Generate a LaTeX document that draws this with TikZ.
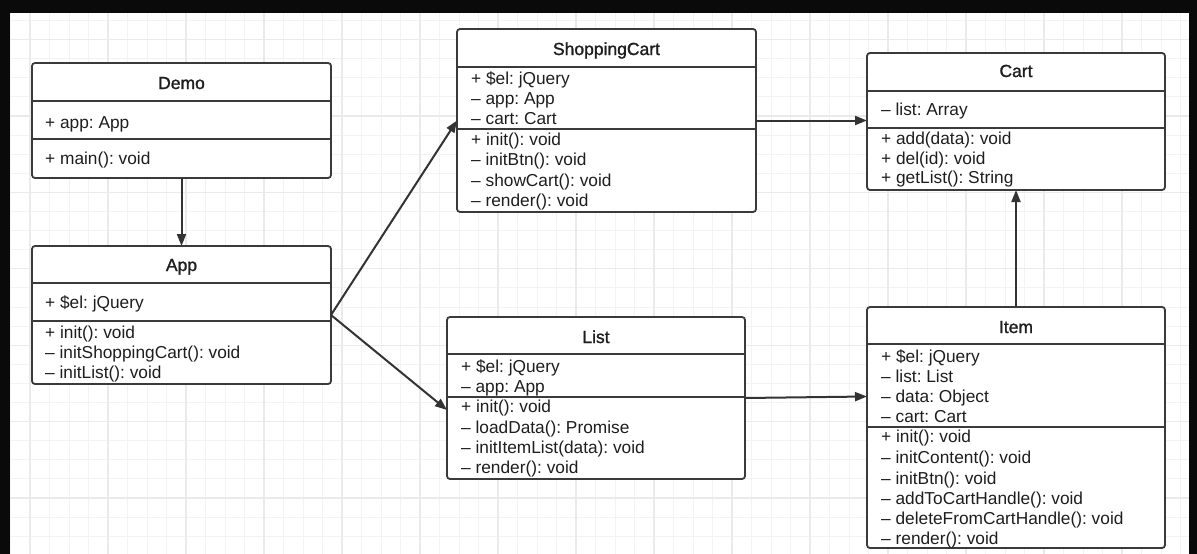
\documentclass[tikz,border=0pt]{standalone}
\usepackage{fontspec}
\setmainfont{Liberation Sans}
\newfontfamily\hdrfont{Liberation Sans}[BoldFont={Liberation Sans},BoldFeatures={FakeBold=1.3}]
\usetikzlibrary{arrows.meta,calc}
\definecolor{boxc}{HTML}{3A3A3A}
\definecolor{txtc}{HTML}{1E1E1E}
\definecolor{arrc}{HTML}{333333}
\definecolor{gridminor}{HTML}{F3F3F3}
\definecolor{gridmajor}{HTML}{EAEAEA}
\definecolor{framec}{HTML}{0A0A0A}
\frenchspacing
\begin{document}
\begin{tikzpicture}[x=1pt,y=-1pt,
  box/.style={draw=boxc, line width=1.8pt, rounded corners=3pt, fill=white, inner sep=0pt, outer sep=0pt, anchor=north west},
  sep/.style={draw=boxc, line width=1.6pt},
  txt/.style={anchor=base west, inner sep=0pt, font=\fontsize{17.3}{20}\selectfont, text=txtc},
  hdr/.style={anchor=base, inner sep=0pt, font=\fontsize{17.5}{20}\selectfont\hdrfont\bfseries, text=txtc},
  arr/.style={draw=arrc, line width=2pt, -{Triangle[length=12pt,width=9pt]}},
  gmin/.style={draw=gridminor, line width=1pt},
  gmaj/.style={draw=gridmajor, line width=1.2pt},
]
\useasboundingbox (0,0) rectangle (1197,554);
\clip (0,0) rectangle (1197,554);
\fill[white] (0,0) rectangle (1197,554);
% grid
\foreach \k in {0,...,60} \draw[gmin] ({10.5+19.5*\k},0) -- ({10.5+19.5*\k},554);
\foreach \k in {-3,...,26} \draw[gmin] (0,{498-19.1*\k}) -- (1197,{498-19.1*\k});
\foreach \k in {0,...,15} \draw[gmaj] ({30+78*\k},0) -- ({30+78*\k},554);
\foreach \k in {-1,...,7} \draw[gmaj] (0,{498-76.4*\k}) -- (1197,{498-76.4*\k});
% frame
\fill[framec] (0,0) rectangle (1197,13);
\fill[framec] (0,0) rectangle (9.5,554);
\fill[framec] (1188.5,0) rectangle (1197,554);

% ---------- Demo ----------
\node[box, minimum width=299pt, minimum height=115pt] (demo) at (32,63) {};
\draw[sep] (32,101) -- (331,101);
\draw[sep] (32,139) -- (331,139);
\node[hdr] (demoh) at (181.5,89) {Demo};
\node[txt] (demo1) at (45,128.5) {+ app: App};
\node[txt] (demo2) at (45,164.5) {+ main(): void};

% ---------- App ----------
\node[box, minimum width=299pt, minimum height=138pt] (app) at (32,246) {};
\draw[sep] (32,283) -- (331,283);
\draw[sep] (32,321) -- (331,321);
\node[hdr] (apph) at (181.5,271) {App};
\node[txt] (app1) at (45,308.5) {+ \$el: jQuery};
\node[txt] (app2) at (45,338.5) {+ init(): void};
\node[txt] (app3) at (45,358.5) {– initShoppingCart(): void};
\node[txt] (app4) at (45,378.5) {– initList(): void};

% ---------- ShoppingCart ----------
\node[box, minimum width=299pt, minimum height=183pt] (sc) at (457,29) {};
\draw[sep] (457,67) -- (756,67);
\draw[sep] (457,129) -- (756,129);
\node[hdr] (sch) at (606.5,55) {ShoppingCart};
\node[txt] (sc1) at (471,84.5) {+ \$el: jQuery};
\node[txt] (sc2) at (471,104.5) {– app: App};
\node[txt] (sc3) at (471,124.5) {– cart: Cart};
\node[txt] (sc4) at (471,145.5) {+ init(): void};
\node[txt] (sc5) at (471,165.5) {– initBtn(): void};
\node[txt] (sc6) at (471,186) {– showCart(): void};
\node[txt] (sc7) at (471,206.5) {– render(): void};

% ---------- Cart ----------
\node[box, minimum width=298pt, minimum height=137pt] (cart) at (867,53) {};
\draw[sep] (867,91) -- (1165,91);
\draw[sep] (867,128) -- (1165,128);
\node[hdr] (carth) at (1016,77) {Cart};
\node[txt] (cart1) at (881,115.5) {– list: Array};
\node[txt] (cart2) at (881,144.5) {+ add(data): void};
\node[txt] (cart3) at (881,164) {+ del(id): void};
\node[txt] (cart4) at (881,183.5) {+ getList(): String};

% ---------- List ----------
\node[box, minimum width=298pt, minimum height=162pt] (list) at (447,317) {};
\draw[sep] (447,354) -- (745,354);
\draw[sep] (447,397) -- (745,397);
\node[hdr] (listh) at (596,343) {List};
\node[txt] (list1) at (461,372.5) {+ \$el: jQuery};
\node[txt] (list2) at (461,392.5) {– app: App};
\node[txt] (list3) at (461,412.5) {+ init(): void};
\node[txt] (list4) at (461,433.5) {– loadData(): Promise};
\node[txt] (list5) at (461,453.5) {– initItemList(data): void};
\node[txt] (list6) at (461,473.5) {– render(): void};

% ---------- Item ----------
\node[box, minimum width=298pt, minimum height=241pt] (item) at (867,307) {};
\draw[sep] (867,344) -- (1165,344);
\draw[sep] (867,427) -- (1165,427);
\node[hdr] (itemh) at (1016,333) {Item};
\node[txt] (item1) at (881,362.5) {+ \$el: jQuery};
\node[txt] (item2) at (881,382.5) {– list: List};
\node[txt] (item3) at (881,402.5) {– data: Object};
\node[txt] (item4) at (881,422.5) {– cart: Cart};
\node[txt] (item5) at (881,442.5) {+ init(): void};
\node[txt] (item6) at (881,463.5) {– initContent(): void};
\node[txt] (item7) at (881,484.5) {– initBtn(): void};
\node[txt] (item8) at (881,504.5) {– addToCartHandle(): void};
\node[txt] (item9) at (881,524.5) {– deleteFromCartHandle(): void};
\node[txt] (item10) at (881,544.5) {– render(): void};

% ---------- connectors ----------
\draw[arr] (demo.south) -- (app.north);
\draw[arr] (app.east) -- (sc.west);
\draw[arr] (app.east) -- ([yshift=-12pt]list.west);
\draw[arr] (sc.east) -- (sc.east -| cart.west);
\draw[arr] (list.east) -- ([yshift=31pt]item.west);
\draw[arr] (item.north) -- (cart.south);
\end{tikzpicture}
\end{document}
